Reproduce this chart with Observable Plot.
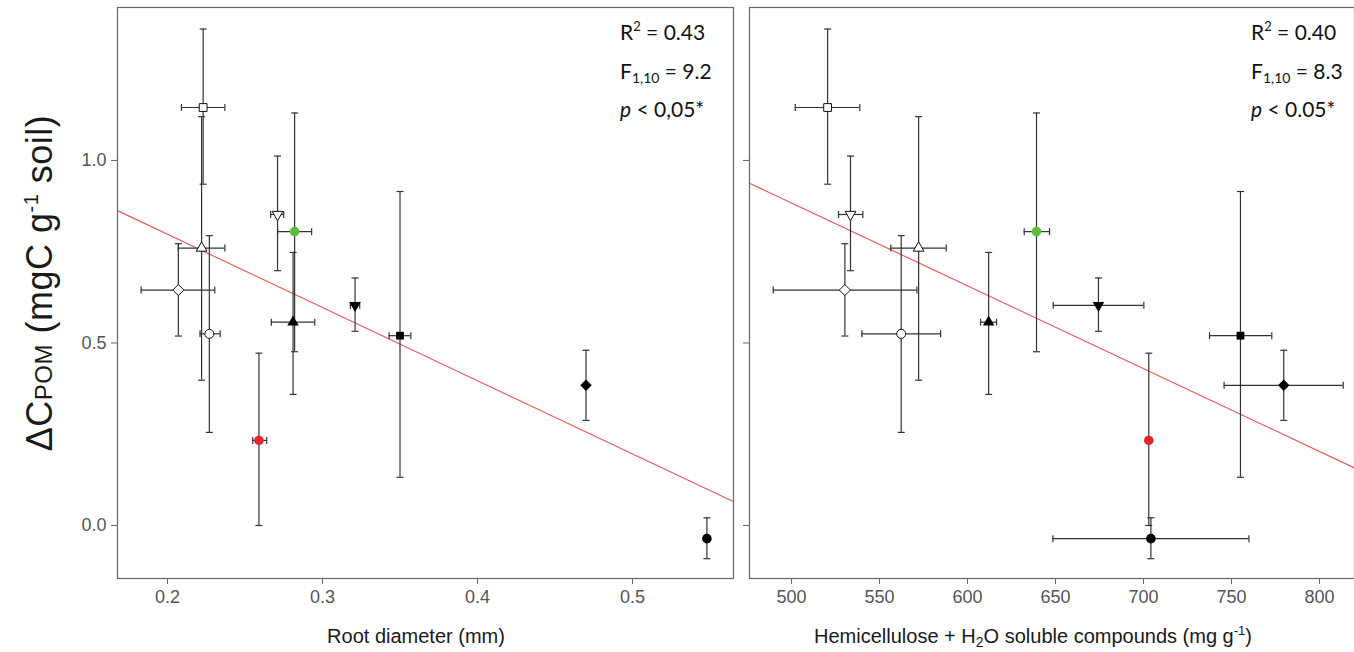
<!DOCTYPE html>
<html>
<head>
<meta charset="utf-8">
<script src="https://cdn.jsdelivr.net/npm/d3@7"></script>
<script src="https://cdn.jsdelivr.net/npm/@observablehq/plot@0.6"></script>
<style>
  body { margin: 0; background: #fff; font-family: Arial, "Liberation Sans", sans-serif; }
  #wrap { position: relative; width: 1354px; height: 652px; overflow: hidden; background: #fff; }
  .panel { position: absolute; top: 0; }
  .stats { position: absolute; font-family: Lato, "Open Sans", sans-serif; font-size: 21px; line-height: 35px; color: #111; white-space: nowrap; }
  .stats .sup { font-size: 13px; position: relative; top: -9px; }
  .stats .sub { font-size: 14px; position: relative; top: 4px; }
  .ytitle { position: absolute; white-space: nowrap; font-size: 36px; color: #1a1a1a; transform: translate(-50%, -50%) rotate(-90deg); letter-spacing: 0.5px; }
  .ytitle .sub { font-size: 24px; }
  .ytitle .sup { font-size: 20px; position: relative; top: -14px; }
  .xtitle { position: absolute; white-space: nowrap; font-size: 20px; color: #1a1a1a; transform: translate(-50%, -50%); }
  .xtitle .sub { font-size: 14px; position: relative; top: 4px; }
  .xtitle .sup { font-size: 13px; position: relative; top: -8px; }
</style>
</head>
<body>
<div id="wrap"></div>
<script>
// ---- data ----
const markers = ["openSquare", "openTriangle", "openDiamond", "openCircle", "openDownTriangle", "greenCircle",
                 "blackTriangle", "blackDownTriangle", "blackSquare", "blackDiamond", "blackCircle", "redCircle"];
const deltaCpom     = [1.145, 0.760, 0.645, 0.525, 0.852, 0.805, 0.557, 0.603, 0.520, 0.384, -0.036, 0.233];
const deltaCpomLow  = [0.935, 0.398, 0.519, 0.255, 0.698, 0.476, 0.359, 0.532, 0.132, 0.288, -0.091, 0.000];
const deltaCpomHigh = [1.360, 1.120, 0.772, 0.794, 1.012, 1.130, 0.748, 0.678, 0.915, 0.480, 0.021, 0.472];

const rootDiameter     = [0.223, 0.222, 0.207, 0.227, 0.271, 0.282, 0.281, 0.321, 0.350, 0.470, 0.548, 0.259];
const rootDiameterLow  = [0.209, 0.207, 0.183, 0.221, 0.2665, 0.271, 0.267, 0.318, 0.343, null, null, 0.255];
const rootDiameterHigh = [0.237, 0.237, 0.2305, 0.234, 0.275, 0.293, 0.295, 0.324, 0.357, null, null, 0.264];

const hemicellulose     = [520.5, 572.2, 530.3, 562.3, 533.5, 639.2, 612.0, 674.4, 755.1, 779.7, 704.2, 703.0];
const hemicelluloseLow  = [502.1, 556.4, 489.6, 540.0, 526.7, 632.2, 607.4, 648.7, 737.5, 745.8, 648.5, null];
const hemicelluloseHigh = [538.8, 587.9, 571.2, 584.7, 540.5, 646.6, 616.5, 700.2, 772.9, 813.5, 759.9, null];

const fitRoot = { intercept: 1.199, slope: -2.006 };
const fitHemi = { intercept: 2.018, slope: -0.002269 };

const yTicks = [0, 0.5, 1.0];
const rootTicks = [0.2, 0.3, 0.4, 0.5];
const hemiTicks = [500, 550, 600, 650, 700, 750, 800];

const statsRoot = { r2: "0.43", f: "9.2", p: "0,05*" };
const statsHemi = { r2: "0.40", f: "8.3", p: "0.05*" };

// ---- marker styles ----
const markerStyle = {
  openSquare:        { symbol: "square",   rotate: 0,   fill: "white",   stroke: "#111", r: 4.4 },
  openTriangle:      { symbol: "triangle", rotate: 0,   fill: "white",   stroke: "#111", r: 4.0 },
  openDiamond:       { symbol: "diamond2", rotate: 0,   fill: "white",   stroke: "#111", r: 5.0 },
  openCircle:        { symbol: "circle",   rotate: 0,   fill: "white",   stroke: "#111", r: 4.5 },
  openDownTriangle:  { symbol: "triangle", rotate: 180, fill: "white",   stroke: "#111", r: 4.0 },
  greenCircle:       { symbol: "circle",   rotate: 0,   fill: "#5cbf3c", stroke: "none", r: 4.8 },
  blackTriangle:     { symbol: "triangle", rotate: 0,   fill: "#000",    stroke: "none", r: 4.3 },
  blackDownTriangle: { symbol: "triangle", rotate: 180, fill: "#000",    stroke: "none", r: 4.3 },
  blackSquare:       { symbol: "square",   rotate: 0,   fill: "#000",    stroke: "none", r: 4.4 },
  blackDiamond:      { symbol: "diamond2", rotate: 0,   fill: "#000",    stroke: "none", r: 5.2 },
  blackCircle:       { symbol: "circle",   rotate: 0,   fill: "#000",    stroke: "none", r: 4.8 },
  redCircle:         { symbol: "circle",   rotate: 0,   fill: "#e4262b", stroke: "none", r: 4.8 }
};

const capH = { draw(ctx) { ctx.moveTo(-3.5, 0); ctx.lineTo(3.5, 0); } };
const capV = { draw(ctx) { ctx.moveTo(0, -3.5); ctx.lineTo(0, 3.5); } };

function buildRows(xs, xLo, xHi) {
  return markers.map((m, i) => ({
    marker: m, x: xs[i], xLo: xLo[i], xHi: xHi[i],
    y: deltaCpom[i], yLo: deltaCpomLow[i], yHi: deltaCpomHigh[i],
    ...markerStyle[m]
  }));
}

function panel({ rows, xDomain, xTicks, xFormat, fit, width, marginLeft, marginRight, showYLabels }) {
  const hRows = rows.filter(d => d.xLo != null);
  const caps = [];
  for (const d of rows) {
    caps.push({ x: d.x, y: d.yLo, k: "h" }, { x: d.x, y: d.yHi, k: "h" });
    if (d.xLo != null) caps.push({ x: d.xLo, y: d.y, k: "v" }, { x: d.xHi, y: d.y, k: "v" });
  }
  const line = xDomain.map(x => ({ x, y: fit.intercept + fit.slope * x }));
  return Plot.plot({
    width, height: 652,
    marginLeft, marginRight, marginTop: 7, marginBottom: 74,
    x: { domain: xDomain },
    y: { domain: [-0.1452, 1.419] },
    r: { type: "identity" },
    style: { fontFamily: "Arial, 'Liberation Sans', sans-serif", background: "transparent", overflow: "visible" },
    marks: [
      Plot.axisX({ ticks: xTicks, tickFormat: xFormat, tickSize: 6, tickPadding: 6, fontSize: 18, fill: "#555", stroke: "#666", label: null }),
      Plot.axisY({ ticks: yTicks, tickFormat: showYLabels ? d3.format(".1f") : () => "", tickSize: 6, tickPadding: 5, fontSize: 18, fill: "#555", stroke: "#666", label: null }),
      Plot.line(line, { x: "x", y: "y", stroke: "#e35d62", strokeWidth: 1.2, clip: true }),
      Plot.ruleX(rows, { x: "x", y1: "yLo", y2: "yHi", stroke: "#333", strokeWidth: 1.2 }),
      Plot.ruleY(hRows, { y: "y", x1: "xLo", x2: "xHi", stroke: "#333", strokeWidth: 1.2 }),
      Plot.dot(caps.filter(c => c.k === "h"), { x: "x", y: "y", symbol: capH, fill: "none", stroke: "#333", strokeWidth: 1.2, r: 4 }),
      Plot.dot(caps.filter(c => c.k === "v"), { x: "x", y: "y", symbol: capV, fill: "none", stroke: "#333", strokeWidth: 1.2, r: 4 }),
      Plot.dot(rows, { x: "x", y: "y", symbol: "symbol", rotate: "rotate", fill: "fill", stroke: "stroke", strokeWidth: 1, r: "r" }),
      Plot.frame({ stroke: "#666", strokeWidth: 1.2 })
    ]
  });
}

const wrap = document.getElementById("wrap");

const left = panel({
  rows: buildRows(rootDiameter, rootDiameterLow, rootDiameterHigh),
  xDomain: [0.16774, 0.56516], xTicks: rootTicks, xFormat: d3.format(".1f"), fit: fitRoot,
  width: 736, marginLeft: 117, marginRight: 3, showYLabels: true
});
left.classList.add("panel"); left.style.left = "0px";
wrap.appendChild(left);

const right = panel({
  rows: buildRows(hemicellulose, hemicelluloseLow, hemicelluloseHigh),
  xDomain: [476.1, 819.9], xTicks: hemiTicks, xFormat: d3.format("d"), fit: fitHemi,
  width: 620, marginLeft: 13, marginRight: 2, showYLabels: false
});
right.classList.add("panel"); right.style.left = "736px";
wrap.appendChild(right);

function addStats(s, leftPx) {
  const div = document.createElement("div");
  div.className = "stats";
  div.style.left = leftPx + "px";
  div.style.top = "14px";
  div.innerHTML = `R<span class="sup">2</span> = ${s.r2}<br>F<span class="sub">1,10</span> = ${s.f}<br><i>p</i> &lt; ${s.p}`;
  wrap.appendChild(div);
}
addStats(statsRoot, 620);
addStats(statsHemi, 1251);

const yTitle = document.createElement("div");
yTitle.className = "ytitle";
yTitle.style.left = "40px"; yTitle.style.top = "283px";
yTitle.innerHTML = `ΔC<span class="sub">POM</span> (mgC g<span class="sup">-1</span> soil)`;
wrap.appendChild(yTitle);

const x1 = document.createElement("div");
x1.className = "xtitle"; x1.style.left = "416px"; x1.style.top = "636px";
x1.textContent = "Root diameter (mm)";
wrap.appendChild(x1);

const x2 = document.createElement("div");
x2.className = "xtitle"; x2.style.left = "1033px"; x2.style.top = "636px";
x2.innerHTML = `Hemicellulose + H<span class="sub">2</span>O soluble compounds (mg g<span class="sup">-1</span>)`;
wrap.appendChild(x2);
</script>
</body>
</html>
